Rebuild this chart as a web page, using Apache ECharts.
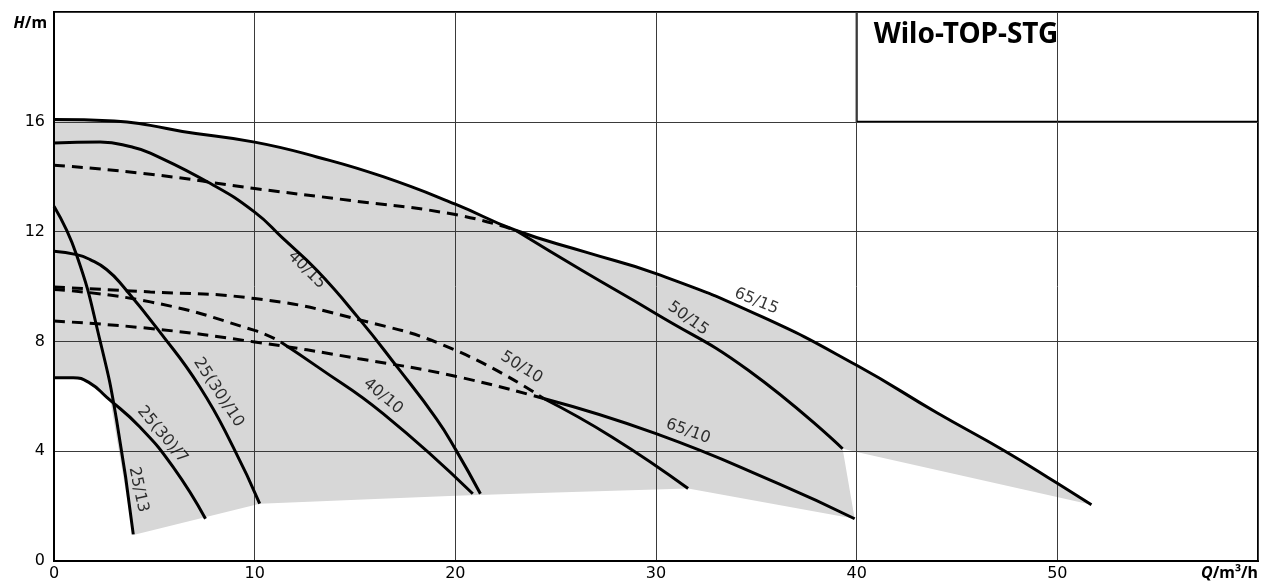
<!DOCTYPE html>
<html><head><meta charset="utf-8">
<script src="https://cdn.jsdelivr.net/npm/echarts@6/dist/echarts.min.js"></script>
<style>html,body{margin:0;padding:0;background:#fff}#c{width:1262px;height:584px}</style>
</head><body><div id="c"></div>
<script>
// ---- data (Q in m³/h, H in m) ----
const xTicks = [0, 10, 20, 30, 40, 50];
const yTicks = [0, 4, 8, 12, 16];
const title = 'Wilo-TOP-STG';

const c65_15 = [[0,16.08],[3,16.03],[4.8,15.87],[6.4,15.65],[10,15.26],[13.1,14.72],[16.4,14.0],[20,13.0],[23,12.05],[26.5,11.25],[30,10.47],[35.3,8.89],[40,7.13],[44,5.4],[47.4,4.0],[50,2.83],[51.7,2.05]];
const c50_15dash = [[0,14.42],[4.8,14.09],[10,13.57],[14.7,13.14],[20,12.62],[23,12.05]];
const c50_15 = [[23,12.05],[26.3,10.59],[30,9.01],[34.6,6.95],[39.3,4.09]];
const c40_15 = [[0,15.23],[2.3,15.26],[3.9,15.08],[4.8,14.86],[7.8,13.75],[10,12.71],[11.4,11.76],[13.1,10.59],[15.2,8.83],[17.1,7.07],[19.05,5.19],[20.04,4.03],[21.25,2.45]];
const c50_10dash = [[0,9.98],[4.8,9.80],[10,9.56],[15.2,8.79],[20,7.68],[24.4,5.92]];
const c50_10 = [[24.4,5.92],[27.8,4.52],[31.6,2.64]];
const c40_10dash = [[0,9.89],[4.8,9.44],[10,8.40],[11.3,7.98]];
const c40_10 = [[11.3,7.98],[13.1,7.09],[16.4,5.37],[20.87,2.45]];
const c65_10dash = [[0,8.74],[4.8,8.47],[10,7.98],[15.2,7.37],[20,6.73],[24.4,5.92]];
const c65_10 = [[24.4,5.92],[30,4.64],[36.1,2.82],[39.9,1.54]];
const c25_30_10 = [[0,11.28],[1.13,11.16],[1.8,10.98],[2.62,10.62],[3.45,10.0],[5.28,8.34],[7.27,6.34],[8.93,4.15],[10.25,2.09]];
const c25_30_7 = [[0,6.68],[0.96,6.68],[1.79,6.48],[2.62,5.97],[4.28,4.88],[5.94,3.42],[7.55,1.54]];
const c25_13 = [[0,12.92],[1.13,11.14],[2.29,8.04],[3.12,5.13],[3.95,0.97]];

// lower edge of the grey operating field (after the 65/15 envelope)
const fieldLower = [[51.7,2.05],[40,3.97],[39.3,4.09],[39.9,1.54],[31.6,2.64],[25,2.5],[20,2.38],[16,2.26],[13,2.17],[10.25,2.09],[3.95,0.95],[2.79,5.92],[2.62,5.97],[1.79,6.48],[0.96,6.68],[0,6.68]];

// curve label anchors: [text, Q, H, angle]
const curveLabels = [
  ['65/15', 35.0, 9.46, -22],
  ['50/15', 31.6, 8.83, -36],
  ['50/10', 23.3, 7.05, -32],
  ['65/10', 31.6, 4.72, -20],
  ['40/15', 12.6, 10.6, -45],
  ['40/10', 16.4, 6.0, -40],
  ['25(30)/10', 8.2, 6.14, -57],
  ['25(30)/7', 5.4, 4.6, -50],
  ['25/13', 4.2, 2.6, -78]
];
const boxFrom = [40, 16], boxTo = [60, 20];

// ---- chart ----
const fieldOutline = c65_15.concat(fieldLower);
const chart = echarts.init(document.getElementById('c'), null, {renderer: 'canvas'});
const solid = {color: '#000', width: 3, type: 'solid'};
const dashed = {color: '#000', width: 3, type: [11, 7]};
function curve(data, style) {
  return {type: 'line', data: data, smooth: 0.5, showSymbol: false, symbol: 'none',
    lineStyle: style, z: 5, silent: true, clip: true};
}
const labelFont = 'DejaVu Sans';
chart.setOption({
  animation: false,
  grid: {left: 54, right: 4, top: 12, bottom: 23, show: true, borderColor: '#000', borderWidth: 2, backgroundColor: 'transparent'},
  xAxis: {
    type: 'value', min: 0, max: 60, interval: 10, z: 3,
    axisLine: {show: true, lineStyle: {color: '#000', width: 2}},
    axisTick: {show: false},
    splitLine: {show: true, lineStyle: {color: '#3a3a3a', width: 1}},
    axisLabel: {margin: 5, color: '#000', fontFamily: labelFont, fontSize: 16,
      formatter: v => xTicks.indexOf(v) >= 0 ? String(v) : ''},
    name: '{i|Q}{b|/m³/h}', nameLocation: 'end', nameGap: 0,
    nameTextStyle: {align: 'right', verticalAlign: 'top', padding: [4, 0, 0, 0],
      rich: {i: {fontStyle: 'italic', fontWeight: 'bold', fontSize: 16, fontFamily: 'Noto Sans', color: '#000'},
             b: {fontWeight: 'bold', fontSize: 16, fontFamily: 'Noto Sans', color: '#000'}}}
  },
  yAxis: {
    type: 'value', min: 0, max: 20, interval: 4, z: 3,
    axisLine: {show: true, lineStyle: {color: '#000', width: 2}},
    axisTick: {show: false},
    splitLine: {show: true, lineStyle: {color: '#3a3a3a', width: 1}},
    axisLabel: {margin: 9, color: '#000', fontFamily: labelFont, fontSize: 16,
      formatter: v => yTicks.indexOf(v) >= 0 ? String(v) : ''},
    name: '{i|H}{b|/m}', nameLocation: 'end', nameGap: 0,
    nameTextStyle: {align: 'right', verticalAlign: 'top', padding: [3, 7, 0, 0],
      rich: {i: {fontStyle: 'italic', fontWeight: 'bold', fontSize: 16, fontFamily: 'Noto Sans', color: '#000'},
             b: {fontWeight: 'bold', fontSize: 16, fontFamily: 'Noto Sans', color: '#000'}}}
  },
  series: [
    {type: 'custom', z: 1, silent: true, data: [[0, 0]],
      renderItem: (params, api) => ({type: 'polygon',
        shape: {points: fieldOutline.map(p => api.coord(p))},
        style: {fill: '#d7d7d7'}})},
    curve(c65_15, solid),
    curve(c50_15dash, dashed), curve(c50_15, solid),
    curve(c40_15, solid),
    curve(c50_10dash, dashed), curve(c50_10, solid),
    curve(c40_10dash, dashed), curve(c40_10, solid),
    curve(c65_10dash, dashed), curve(c65_10, solid),
    curve(c25_30_10, solid), curve(c25_30_7, solid), curve(c25_13, solid),
    {type: 'scatter', z: 6, silent: true, symbolSize: 0,
      data: curveLabels.map(l => ({value: [l[1], l[2]], name: l[0],
        label: {show: true, position: 'inside', formatter: l[0], rotate: l[3],
          color: '#000', fontFamily: labelFont, fontSize: 16}}))},
    {type: 'line', data: [], z: 4, silent: true,
      markArea: {silent: true,
        itemStyle: {color: '#fff', borderColor: '#000', borderWidth: 2},
        label: {show: true, position: 'insideTopLeft', distance: 0, padding: [10, 0, 0, 18],
          color: '#000', fontFamily: 'Noto Sans', fontWeight: 'bold', fontSize: 28},
        data: [[{coord: boxFrom, name: title}, {coord: boxTo}]]}}
  ]
});
</script></body></html>
